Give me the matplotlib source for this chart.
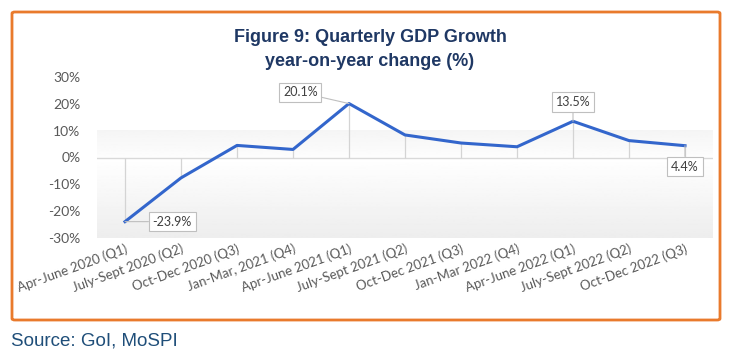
import numpy as np
import matplotlib
matplotlib.use("Agg")
from matplotlib import pyplot as plt
from matplotlib.colors import LinearSegmentedColormap
from matplotlib.patches import FancyBboxPatch

quarters = ["Apr-June 2020 (Q1)", "July-Sept 2020 (Q2)", "Oct-Dec 2020 (Q3)",
            "Jan-Mar, 2021 (Q4)", "Apr-June 2021 (Q1)", "July-Sept 2021 (Q2)",
            "Oct-Dec 2021 (Q3)", "Jan-Mar 2022 (Q4)", "Apr-June 2022 (Q1)",
            "July-Sept 2022 (Q2)", "Oct-Dec 2022 (Q3)"]
growth = [-23.9, -7.6, 4.5, 3.0, 20.1, 8.4, 5.4, 4.0, 13.5, 6.3, 4.4]
yticks = [-30, -20, -10, 0, 10, 20, 30]

# which points get a callout, and where the box sits (offset in points)
callouts = {0: (34, 0), 4: (-35, 8), 8: (0, 14), 10: (0, -15)}

narrow = ["Liberation Sans Narrow", "Liberation Sans", "DejaVu Sans"]
tickfont = ["Lato", "DejaVu Sans"]

fig = plt.figure(figsize=(7.31, 3.58), dpi=100)

# orange frame
frame = FancyBboxPatch((12 / 731, 1 - 320 / 358), 708 / 731, 308 / 358,
                       boxstyle="round,pad=0,rounding_size=0.004",
                       transform=fig.transFigure, fill=False,
                       edgecolor="#E97A2C", linewidth=2)
fig.patches.append(frame)

fig.text(370 / 731, 1 - 38 / 358, "Figure 9: Quarterly GDP Growth",
         ha="center", va="center", fontsize=13, fontweight="bold",
         color="#1F3864", family=narrow)
fig.text(370 / 731, 1 - 62 / 358, "year-on-year change (%)",
         ha="center", va="center", fontsize=13, fontweight="bold",
         color="#1F3864", family=narrow)
fig.text(11 / 731, 1 - 341 / 358, "Source: GoI, MoSPI", ha="left", va="center",
         fontsize=13.5, color="#1F4E79", family=narrow)

ax = fig.add_axes([97 / 731, 1 - 238 / 358, 616 / 731, 161 / 358])
x = np.arange(len(quarters))
ax.set_xlim(-0.5, len(quarters) - 0.5)
ax.set_ylim(-30, 30)

# plot area gradient (Excel style), from 10% down to -30%
rows = np.concatenate([np.linspace(0.96, 0.99, 25), np.linspace(1.0, 0.93, 75)])
grad = rows[:, None]
cmap = LinearSegmentedColormap.from_list("g", ["#000000", "#FFFFFF"])
ax.imshow(grad, aspect="auto", cmap=cmap, vmin=0, vmax=1,
          extent=(-0.5, len(quarters) - 0.5, -30, 10), zorder=0)

ax.axhline(0, color="#D9D9D9", linewidth=1, zorder=1)
ax.vlines(x, 0, growth, color="#D4D4D4", linewidth=0.9, zorder=1)
ax.plot(x, growth, color="#3366CC", linewidth=2.2, zorder=3)

for i, (dx, dy) in callouts.items():
    ax.annotate(f"{growth[i]:.1f}%", xy=(x[i], growth[i]), xytext=(dx, dy),
                textcoords="offset points", ha="center", va="center",
                fontsize=9, color="#404040", family=tickfont,
                bbox=dict(boxstyle="square,pad=0.3", fc="white", ec="#BFBFBF", lw=0.8),
                arrowprops=dict(arrowstyle="-", color="#BFBFBF", lw=0.8,
                                shrinkA=0, shrinkB=0), zorder=4)

for s in ax.spines.values():
    s.set_visible(False)
ax.set_yticks(yticks)
ax.set_yticklabels([f"{v}%" for v in yticks], family=tickfont, fontsize=10,
                   color="#595959")
ax.set_xticks(x)
ax.set_xticklabels(quarters, rotation=20, ha="right", rotation_mode="anchor",
                   family=tickfont, fontsize=9.5, color="#595959")
ax.tick_params(length=0)
ax.tick_params(axis="x", pad=3)
ax.tick_params(axis="y", pad=12)

plt.savefig("out.png", dpi=100)
plt.close()
